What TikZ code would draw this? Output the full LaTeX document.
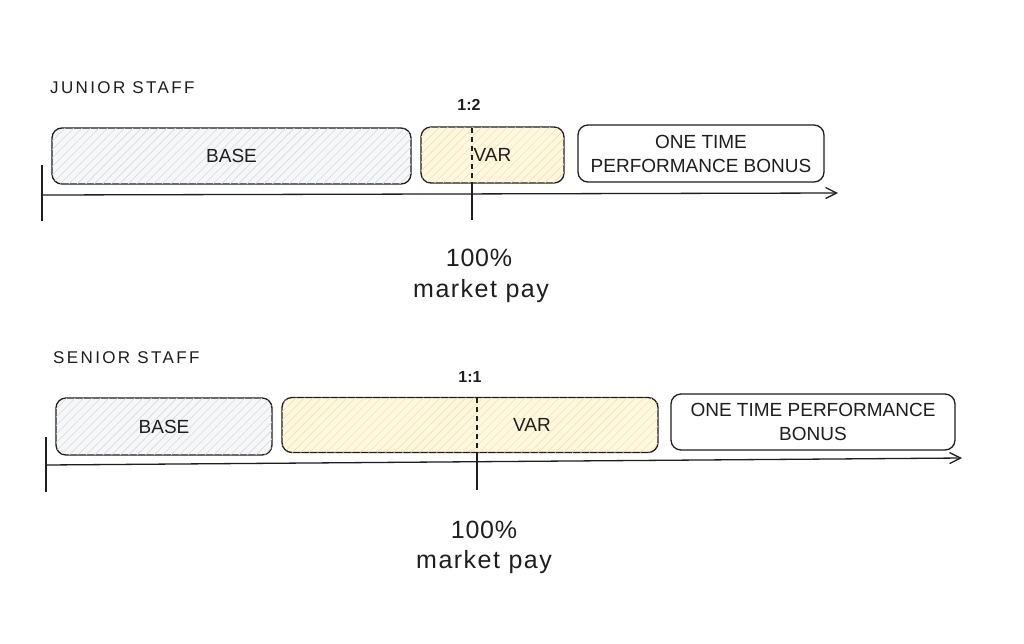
\documentclass[tikz,border=0pt]{standalone}
\usepackage{fontspec}
\setmainfont{Liberation Sans}
\usetikzlibrary{arrows.meta,patterns.meta}
\definecolor{ink}{HTML}{1E1E1E}
\definecolor{basefill}{HTML}{F6F7F8}
\definecolor{basehatch}{HTML}{D6DADE}
\definecolor{varfill}{HTML}{FEF8E2}
\definecolor{varhatch}{HTML}{FBE3A0}
\tikzset{
  box/.style={draw=ink, line width=1.3pt, rounded corners=10pt, align=center,
    font=\fontsize{19}{24}\selectfont, text=ink, inner sep=0pt},
  basebox/.style={box, fill=basefill,
    postaction={pattern={Lines[angle=45,distance=6pt,line width=0.6pt]}, pattern color=basehatch}},
  varbox/.style={box, fill=varfill,
    postaction={pattern={Lines[angle=45,distance=6pt,line width=0.6pt]}, pattern color=varhatch}},
  plainbox/.style={box, fill=white},
  axisline/.style={draw=ink, line width=1.3pt, -{Straight Barb[length=11pt,width=11pt,line width=1.3pt]}},
  tickline/.style={draw=ink, line width=1.2pt},
  dashline/.style={draw=ink, line width=1.1pt, dash pattern=on 5pt off 4pt},
  heading/.style={font=\fontsize{17}{20}\selectfont\addfontfeatures{LetterSpace=14}, text=ink, anchor=west, inner sep=0pt},
  ratio/.style={font=\bfseries\fontsize{16}{20}\selectfont, text=ink, inner sep=0pt},
  pct/.style={font=\fontsize{25}{30}\selectfont\addfontfeatures{LetterSpace=3}, text=ink, inner sep=0pt},
  mkt/.style={font=\fontsize{25}{30}\selectfont\addfontfeatures{LetterSpace=6}, text=ink, inner sep=0pt}
}
\begin{document}
\begin{tikzpicture}[x=1pt,y=-1pt]
\useasboundingbox[fill=white] (0,0) rectangle (1024,643);
% ---------- Junior staff ----------
\node[heading] (jhead) at (50,88) {JUNIOR STAFF};
\node[ratio] (jratio) at (469,105) {1:2};
\node[basebox, minimum width=359pt, minimum height=56pt] (jbase) at (231.5,156) {BASE};
\node[varbox, minimum width=143pt, minimum height=56pt] (jvar) at (492.5,155) {VAR};
\node[plainbox, minimum width=246pt, minimum height=57pt] (jbonus) at (701,153.5) {ONE TIME\\PERFORMANCE BONUS};
\coordinate (jaxs) at (42,195);
\coordinate (jaxe) at (838,193);
\coordinate (jt1) at (42,165);
\coordinate (jt2) at (42,221);
\coordinate (jd1) at (472,128);
\coordinate (jd2) at (472,183);
\coordinate (jd3) at (472,220);
\draw[axisline] (jaxs) -- (jaxe);
\draw[tickline] (jt1) -- (jt2);
\draw[dashline] (jd1) -- (jd2);
\draw[tickline] (jd2) -- (jd3);
\node[pct] (jpct) at (479,258) {100\%};
\node[mkt] (jmkt) at (481,291) {market pay};
% ---------- Senior staff ----------
\node[heading] (shead) at (53,358) {SENIOR STAFF};
\node[ratio] (sratio) at (470,377) {1:1};
\node[basebox, minimum width=216pt, minimum height=57pt] (sbase) at (164,426.5) {BASE};
\node[varbox, minimum width=376pt, minimum height=55pt] (svar) at (470,425) {\hspace*{124pt}VAR};
\node[plainbox, minimum width=284pt, minimum height=56pt] (sbonus) at (813,422) {ONE TIME PERFORMANCE\\BONUS};
\coordinate (saxs) at (46,465);
\coordinate (saxe) at (962,458);
\coordinate (st1) at (46,437);
\coordinate (st2) at (46,492);
\coordinate (sd1) at (477,398);
\coordinate (sd2) at (477,452);
\coordinate (sd3) at (477,490);
\draw[axisline] (saxs) -- (saxe);
\draw[tickline] (st1) -- (st2);
\draw[dashline] (sd1) -- (sd2);
\draw[tickline] (sd2) -- (sd3);
\node[pct] (spct) at (484,530) {100\%};
\node[mkt] (smkt) at (484,562) {market pay};
\end{tikzpicture}
\end{document}
